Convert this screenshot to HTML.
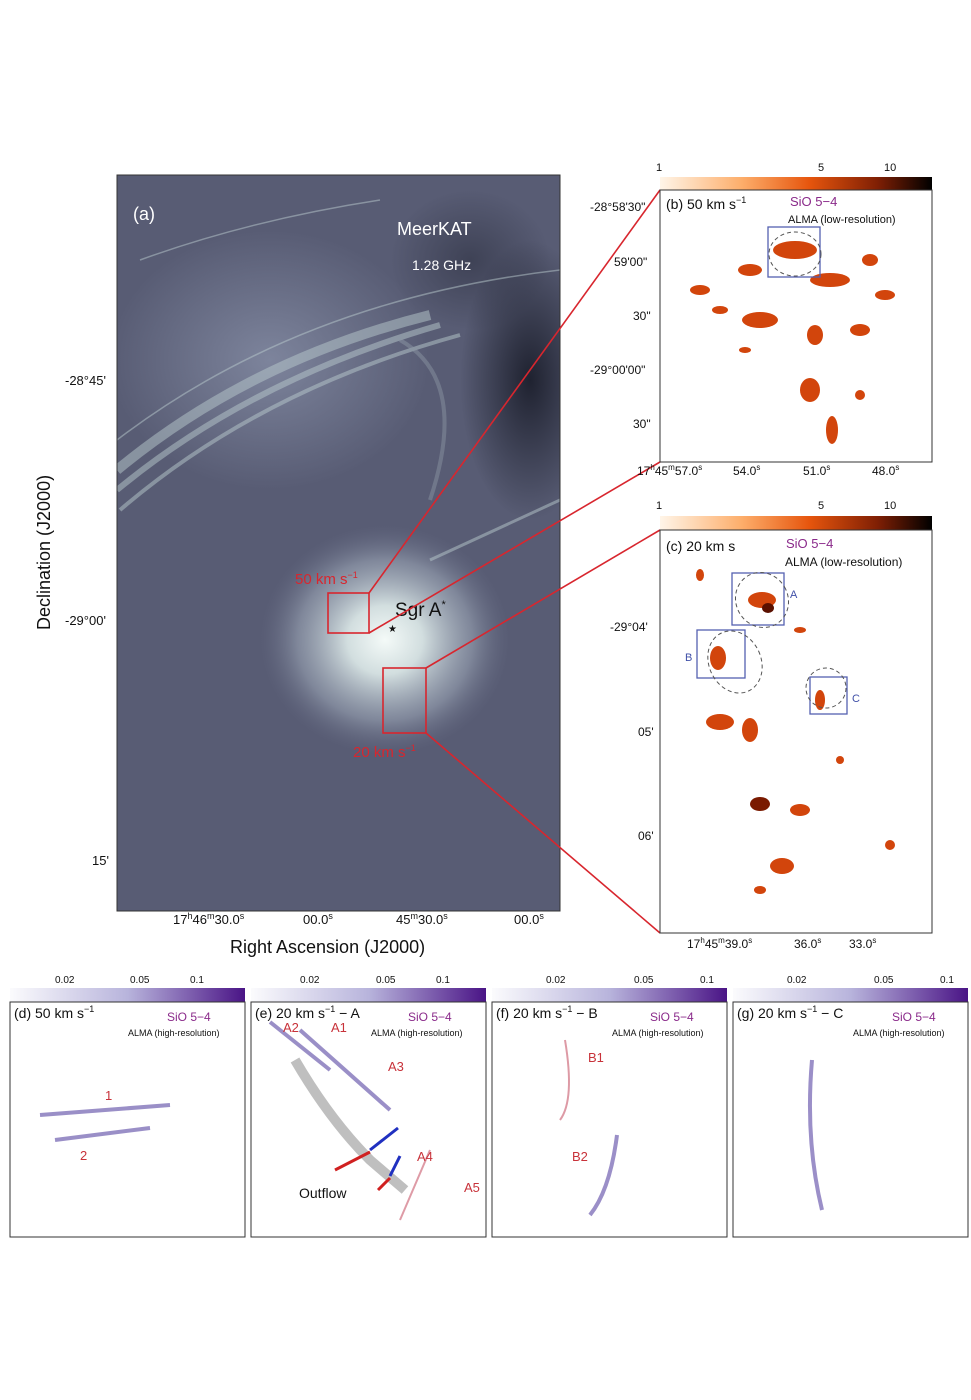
<!DOCTYPE html>
<html><head><meta charset="utf-8"><style>
html,body{margin:0;padding:0;background:#fff;}
svg{display:block;font-family:"Liberation Sans",sans-serif;}
</style></head><body>
<svg width="971" height="1400" viewBox="0 0 971 1400" xmlns="http://www.w3.org/2000/svg">
<defs>
<clipPath id="ca"><rect x="117" y="175" width="443" height="736"/></clipPath>
<radialGradient id="core" cx="0.5" cy="0.5" r="0.5">
<stop offset="0" stop-color="#f4faf8"/><stop offset="0.3" stop-color="#d2dedf"/><stop offset="0.7" stop-color="#9aa4b4" stop-opacity="0.6"/><stop offset="1" stop-color="#6a7088" stop-opacity="0"/></radialGradient>
<radialGradient id="dark" cx="0.5" cy="0.5" r="0.5">
<stop offset="0" stop-color="#1f2230"/><stop offset="1" stop-color="#1f2230" stop-opacity="0"/></radialGradient>
<radialGradient id="lite" cx="0.5" cy="0.5" r="0.5">
<stop offset="0" stop-color="#7d849c"/><stop offset="1" stop-color="#7d849c" stop-opacity="0"/></radialGradient>
<linearGradient id="cbo" x1="0" x2="1"><stop offset="0" stop-color="#fff5e8"/><stop offset="0.3" stop-color="#fdae6b"/><stop offset="0.55" stop-color="#e6550d"/><stop offset="0.8" stop-color="#7f1f04"/><stop offset="1" stop-color="#000"/></linearGradient>
<linearGradient id="cbp" x1="0" x2="1"><stop offset="0" stop-color="#fbfbfd"/><stop offset="0.5" stop-color="#b8b4dc"/><stop offset="1" stop-color="#4a1486"/></linearGradient>
</defs>

<!-- Panel a -->
<g clip-path="url(#ca)">
<rect x="117" y="175" width="443" height="736" fill="#585c74"/>
<ellipse cx="270" cy="360" rx="160" ry="130" fill="url(#lite)"/>
<ellipse cx="530" cy="380" rx="70" ry="140" fill="url(#dark)"/>
<ellipse cx="470" cy="260" rx="80" ry="70" fill="url(#dark)" opacity="0.45"/>
<ellipse cx="385" cy="640" rx="125" ry="115" fill="url(#core)"/>
<g stroke="#b9cacd" fill="none" opacity="0.5">
<path d="M117 470 Q250 360 430 315" stroke-width="10"/>
<path d="M117 490 Q250 380 440 325" stroke-width="6"/>
<path d="M120 510 Q260 390 460 335" stroke-width="4"/>
<path d="M117 440 Q300 300 560 270" stroke-width="1.5"/>
<path d="M430 560 L560 500" stroke-width="3"/>
<path d="M400 340 Q470 380 430 500" stroke-width="4" opacity="0.5"/>
<path d="M140 260 Q250 220 380 200" stroke-width="1.5"/>
</g>
</g>
<rect x="117" y="175" width="443" height="736" fill="none" stroke="#333" stroke-width="1"/>
<text x="133" y="220" fill="#fff" font-size="18">(a)</text>
<text x="397" y="235" fill="#fff" font-size="18">MeerKAT</text>
<text x="412" y="270" fill="#fff" font-size="14">1.28 GHz</text>
<text x="395" y="616" fill="#111" font-size="19">Sgr A<tspan font-size="11" dy="-8">*</tspan></text>
<text x="388" y="632" fill="#111" font-size="10">★</text>
<g stroke="#d8262e" stroke-width="1.6" fill="none">
<rect x="328" y="593" width="41" height="40"/>
<rect x="383" y="668" width="43" height="65"/>
<line x1="369" y1="593" x2="660" y2="190"/>
<line x1="369" y1="633" x2="660" y2="462"/>
<line x1="426" y1="668" x2="660" y2="530"/>
<line x1="426" y1="733" x2="660" y2="933"/>
</g>
<text x="295" y="584" fill="#d8262e" font-size="15">50 km s<tspan font-size="9" dy="-6">−1</tspan></text>
<text x="353" y="757" fill="#d8262e" font-size="15">20 km s<tspan font-size="9" dy="-6">−1</tspan></text>
<g font-size="13" fill="#111">
<text x="65" y="385">-28°45'</text>
<text x="65" y="625">-29°00'</text>
<text x="92" y="865">15'</text>
<text x="173" y="924">17<tspan font-size="9" dy="-5">h</tspan><tspan dy="5">46</tspan><tspan font-size="9" dy="-5">m</tspan><tspan dy="5">30.0</tspan><tspan font-size="9" dy="-5">s</tspan></text>
<text x="303" y="924">00.0<tspan font-size="9" dy="-5">s</tspan></text>
<text x="396" y="924">45<tspan font-size="9" dy="-5">m</tspan><tspan dy="5">30.0</tspan><tspan font-size="9" dy="-5">s</tspan></text>
<text x="514" y="924">00.0<tspan font-size="9" dy="-5">s</tspan></text>
</g>
<text x="230" y="953" font-size="18" fill="#111">Right Ascension (J2000)</text>
<text transform="translate(50,630) rotate(-90)" font-size="18" fill="#111">Declination (J2000)</text>

<!-- Panel b -->
<rect x="660" y="177" width="272" height="13" fill="url(#cbo)"/>
<g font-size="11" fill="#111"><text x="656" y="171">1</text><text x="818" y="171">5</text><text x="884" y="171">10</text></g>
<rect x="660" y="190" width="272" height="272" fill="#fff" stroke="#333"/>
<g fill="#d2450c">
<ellipse cx="795" cy="250" rx="22" ry="9"/><ellipse cx="750" cy="270" rx="12" ry="6"/><ellipse cx="700" cy="290" rx="10" ry="5"/>
<ellipse cx="830" cy="280" rx="20" ry="7"/><ellipse cx="760" cy="320" rx="18" ry="8"/><ellipse cx="815" cy="335" rx="8" ry="10"/>
<ellipse cx="860" cy="330" rx="10" ry="6"/><ellipse cx="810" cy="390" rx="10" ry="12"/><ellipse cx="832" cy="430" rx="6" ry="14"/>
<ellipse cx="870" cy="260" rx="8" ry="6"/><ellipse cx="885" cy="295" rx="10" ry="5"/><ellipse cx="745" cy="350" rx="6" ry="3"/>
<ellipse cx="860" cy="395" rx="5" ry="5"/><ellipse cx="720" cy="310" rx="8" ry="4"/>
</g>
<rect x="768" y="227" width="52" height="50" fill="none" stroke="#5560b0" stroke-width="1.3"/>
<ellipse cx="795" cy="254" rx="26" ry="22" fill="none" stroke="#555" stroke-dasharray="4,3"/>
<text x="666" y="209" font-size="14" fill="#111">(b) 50 km s<tspan font-size="9" dy="-6">−1</tspan></text>
<text x="790" y="206" font-size="13" fill="#8a2a8a">SiO 5−4</text>
<text x="788" y="223" font-size="11" fill="#111">ALMA (low-resolution)</text>
<g font-size="12" fill="#111"><text x="590" y="211">-28°58'30"</text><text x="614" y="266">59'00"</text><text x="633" y="320">30"</text><text x="590" y="374">-29°00'00"</text><text x="633" y="428">30"</text>
<text x="637" y="475">17<tspan font-size="8" dy="-5">h</tspan><tspan dy="5">45</tspan><tspan font-size="8" dy="-5">m</tspan><tspan dy="5">57.0</tspan><tspan font-size="8" dy="-5">s</tspan></text>
<text x="733" y="475">54.0<tspan font-size="8" dy="-5">s</tspan></text><text x="803" y="475">51.0<tspan font-size="8" dy="-5">s</tspan></text><text x="872" y="475">48.0<tspan font-size="8" dy="-5">s</tspan></text></g>

<!-- Panel c -->
<rect x="660" y="516" width="272" height="14" fill="url(#cbo)"/>
<g font-size="11" fill="#111"><text x="656" y="509">1</text><text x="818" y="509">5</text><text x="884" y="509">10</text></g>
<rect x="660" y="530" width="272" height="403" fill="#fff" stroke="#333"/>
<g fill="#d2450c">
<ellipse cx="762" cy="600" rx="14" ry="8"/><ellipse cx="768" cy="608" rx="6" ry="5" fill="#5a1000"/><ellipse cx="718" cy="658" rx="8" ry="12"/>
<ellipse cx="720" cy="722" rx="14" ry="8"/><ellipse cx="750" cy="730" rx="8" ry="12"/><ellipse cx="760" cy="804" rx="10" ry="7" fill="#7a1a00"/>
<ellipse cx="800" cy="810" rx="10" ry="6"/><ellipse cx="782" cy="866" rx="12" ry="8"/><ellipse cx="820" cy="700" rx="5" ry="10"/>
<ellipse cx="890" cy="845" rx="5" ry="5"/><ellipse cx="700" cy="575" rx="4" ry="6"/><ellipse cx="800" cy="630" rx="6" ry="3"/>
<ellipse cx="760" cy="890" rx="6" ry="4"/><ellipse cx="840" cy="760" rx="4" ry="4"/>
</g>
<g fill="none" stroke="#5560b0" stroke-width="1.3"><rect x="732" y="573" width="52" height="52"/><rect x="697" y="630" width="48" height="48"/><rect x="810" y="677" width="37" height="37"/></g>
<g fill="none" stroke="#555" stroke-dasharray="4,3"><ellipse cx="762" cy="600" rx="26" ry="28" transform="rotate(-30 762 600)"/><ellipse cx="735" cy="662" rx="26" ry="32" transform="rotate(-25 735 662)"/><ellipse cx="826" cy="688" rx="20" ry="20"/></g>
<g font-size="11" fill="#4050a8"><text x="790" y="598">A</text><text x="685" y="661">B</text><text x="852" y="702">C</text></g>
<text x="666" y="551" font-size="14" fill="#111">(c) 20 km s</text>
<text x="786" y="548" font-size="13" fill="#8a2a8a">SiO 5−4</text>
<text x="785" y="566" font-size="12" fill="#111">ALMA (low-resolution)</text>
<g font-size="12" fill="#111"><text x="610" y="631">-29°04'</text><text x="638" y="736">05'</text><text x="638" y="840">06'</text>
<text x="687" y="948">17<tspan font-size="8" dy="-5">h</tspan><tspan dy="5">45</tspan><tspan font-size="8" dy="-5">m</tspan><tspan dy="5">39.0</tspan><tspan font-size="8" dy="-5">s</tspan></text>
<text x="794" y="948">36.0<tspan font-size="8" dy="-5">s</tspan></text><text x="849" y="948">33.0<tspan font-size="8" dy="-5">s</tspan></text></g>

<!-- Bottom panels -->
<g font-size="10" fill="#111">
<rect x="10" y="988" width="235" height="14" fill="url(#cbp)"/><text x="55" y="983">0.02</text><text x="130" y="983">0.05</text><text x="190" y="983">0.1</text>
<rect x="251" y="988" width="235" height="14" fill="url(#cbp)"/><text x="300" y="983">0.02</text><text x="376" y="983">0.05</text><text x="436" y="983">0.1</text>
<rect x="492" y="988" width="235" height="14" fill="url(#cbp)"/><text x="546" y="983">0.02</text><text x="634" y="983">0.05</text><text x="700" y="983">0.1</text>
<rect x="733" y="988" width="235" height="14" fill="url(#cbp)"/><text x="787" y="983">0.02</text><text x="874" y="983">0.05</text><text x="940" y="983">0.1</text>
</g>
<g fill="#fff" stroke="#333"><rect x="10" y="1002" width="235" height="235"/><rect x="251" y="1002" width="235" height="235"/><rect x="492" y="1002" width="235" height="235"/><rect x="733" y="1002" width="235" height="235"/></g>
<g stroke="#7060b0" stroke-width="4" opacity="0.7" fill="none">
<path d="M40 1115 L170 1105"/><path d="M55 1140 L150 1128"/>
<path d="M300 1030 L390 1110"/><path d="M270 1022 L330 1070"/><path d="M430 1150 L400 1220" stroke="#d07080" stroke-width="2"/>
<path d="M617 1135 Q610 1190 590 1215"/><path d="M565 1040 Q575 1100 560 1120" stroke="#d07080" stroke-width="2"/>
<path d="M812 1060 Q805 1140 822 1210"/>
</g>
<path d="M295 1060 Q330 1120 370 1160 L405 1190" stroke="#000" stroke-width="10" fill="none" opacity="0.25"/>
<g stroke-width="3"><line x1="335" y1="1170" x2="370" y2="1152" stroke="#d02020"/><line x1="370" y1="1150" x2="398" y2="1128" stroke="#2030c0"/><line x1="378" y1="1190" x2="390" y2="1178" stroke="#d02020"/><line x1="390" y1="1176" x2="400" y2="1156" stroke="#2030c0"/></g>
<g font-size="14" fill="#111">
<text x="14" y="1018">(d) 50 km s<tspan font-size="9" dy="-6">−1</tspan></text>
<text x="255" y="1018">(e) 20 km s<tspan font-size="9" dy="-6">−1</tspan><tspan dy="6"> − A</tspan></text>
<text x="496" y="1018">(f) 20 km s<tspan font-size="9" dy="-6">−1</tspan><tspan dy="6"> − B</tspan></text>
<text x="737" y="1018">(g) 20 km s<tspan font-size="9" dy="-6">−1</tspan><tspan dy="6"> − C</tspan></text>
<text x="299" y="1198">Outflow</text>
</g>
<g font-size="12" fill="#8a2a8a"><text x="167" y="1021">SiO 5−4</text><text x="408" y="1021">SiO 5−4</text><text x="650" y="1021">SiO 5−4</text><text x="892" y="1021">SiO 5−4</text></g>
<g font-size="9" fill="#111"><text x="128" y="1036">ALMA (high-resolution)</text><text x="371" y="1036">ALMA (high-resolution)</text><text x="612" y="1036">ALMA (high-resolution)</text><text x="853" y="1036">ALMA (high-resolution)</text></g>
<g font-size="13" fill="#c8323a"><text x="105" y="1100">1</text><text x="80" y="1160">2</text>
<text x="283" y="1032">A2</text><text x="331" y="1032">A1</text><text x="388" y="1071">A3</text><text x="417" y="1161">A4</text><text x="464" y="1192">A5</text>
<text x="588" y="1062">B1</text><text x="572" y="1161">B2</text></g>
</svg>
</body></html>
